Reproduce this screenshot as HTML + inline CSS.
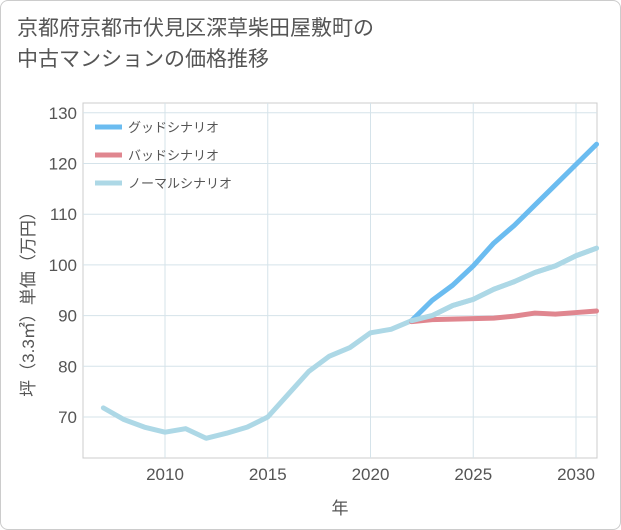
<!DOCTYPE html>
<html><head><meta charset="utf-8">
<style>
body{margin:0;background:#fff;}
.wrap{position:relative;width:619px;height:528px;border:1px solid #ccc;border-radius:8px;overflow:hidden;background:#fff;font-family:"Liberation Sans","Noto Sans CJK JP",sans-serif;}
.title{position:absolute;left:16px;top:12px;font-size:21px;line-height:31px;color:#555;}
</style></head><body>
<div class="wrap">
<div class="title">京都府京都市伏見区深草柴田屋敷町の<br>中古マンションの価格推移</div>
<svg id="chart" width="621" height="530" style="position:absolute;left:-1px;top:-1px"></svg>
</div>
<script>
const years=[2007,2008,2009,2010,2011,2012,2013,2014,2015,2016,2017,2018,2019,2020,2021,2022,2023,2024,2025,2026,2027,2028,2029,2030,2031];
const normal=[71.8,69.5,68,67,67.7,65.8,66.8,68,70,74.5,79,82,83.7,86.6,87.3,89,90,92,93.2,95.2,96.7,98.5,99.8,101.8,103.3];
const goodYears=[2022,2023,2024,2025,2026,2027,2028,2029,2030,2031];
const good=[89,93,96,99.8,104.3,107.8,111.8,115.8,119.8,123.8];
const bad=[88.8,89.2,89.3,89.4,89.5,89.9,90.5,90.3,90.6,90.9];
const yTicks=[70,80,90,100,110,120,130];
const xTicks=[2010,2015,2020,2025,2030];
const ns="http://www.w3.org/2000/svg",svg=document.getElementById('chart');
const L=83,R=597,T=103,B=458;
const xs=v=>165+(v-2010)*20.55;
const ys=v=>417-(v-70)*5.07;
function mk(t,a,p){const e=document.createElementNS(ns,t);for(const k in a)e.setAttribute(k,a[k]);(p||svg).appendChild(e);return e;}
const bg=mk('rect',{x:L,y:T,width:R-L,height:B-T,fill:'#fff',stroke:'#ccc'});


yTicks.forEach(v=>{const g=mk('line',{x1:L,x2:R,y1:ys(v),y2:ys(v),stroke:'#d5e3ea'});


const t=mk('text',{x:L-6,y:ys(v)+6,'text-anchor':'end','font-size':17,fill:'#555'});t.textContent=v;

});
xTicks.forEach(v=>{const g=mk('line',{x1:xs(v),x2:xs(v),y1:T,y2:B,stroke:'#d5e3ea'});


const t=mk('text',{x:xs(v),y:B+22,'text-anchor':'middle','font-size':17,fill:'#555'});t.textContent=v;

});
function line(xv,yv,c,n){const d=xv.map((x,i)=>(i?'L':'M')+xs(x)+','+ys(yv[i])).join('');
const p=mk('path',{d:d,fill:'none',stroke:c,'stroke-width':5,'stroke-linejoin':'round','stroke-linecap':'round'});

}
line(years,normal,'#add8e6','normal-line');
line(goodYears,bad,'#e0868f','bad-line');
line(goodYears,good,'#6bbcf0','good-line');
line(years.slice(15),normal.slice(15),'#add8e6','normal-line-forecast');
const leg=[['グッドシナリオ','#6bbcf0'],['バッドシナリオ','#e0868f'],['ノーマルシナリオ','#add8e6']];
leg.forEach((l,i)=>{const y=127+i*28;const s=mk('line',{x1:95,x2:122,y1:y,y2:y,stroke:l[1],'stroke-width':5});


const t=mk('text',{x:128,y:y+5,'font-size':13,fill:'#555'});t.textContent=l[0];

});
const xt=mk('text',{x:340,y:514,'text-anchor':'middle','font-size':17,fill:'#555'});xt.textContent='年';


const yt=mk('text',{x:0,y:0,'text-anchor':'middle','font-size':17,fill:'#555',transform:'translate(34,300) rotate(-90)'});yt.textContent='坪（3.3㎡）単価（万円）';


</script>
</body></html>
